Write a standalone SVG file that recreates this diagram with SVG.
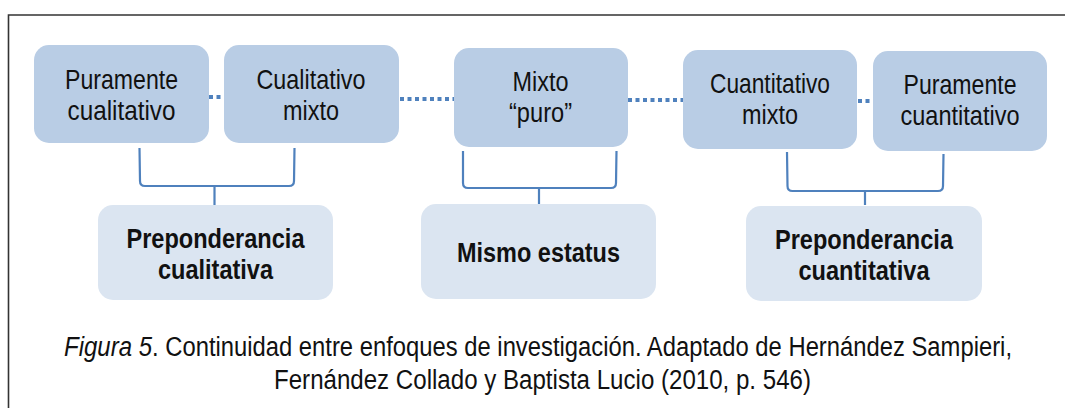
<svg xmlns="http://www.w3.org/2000/svg" width="1065" height="408" viewBox="0 0 1065 408">
<style>
.top{fill:#B9CDE5}
.bot{fill:#DBE5F1}
.t{font-family:"Liberation Sans",Arial,sans-serif;font-size:27.5px;fill:#111;text-anchor:middle}
.b{font-family:"Liberation Sans",Arial,sans-serif;font-size:28px;font-weight:bold;fill:#111;text-anchor:middle}
.cap{font-family:"Liberation Sans",Arial,sans-serif;font-size:28px;fill:#111}
.br{fill:none;stroke:#4F81BD;stroke-width:2.2}
.dot{fill:none;stroke:#4F81BD;stroke-width:4;stroke-dasharray:4 3.5}
</style>
<rect width="1065" height="408" fill="#fff"/>
<path d="M8.5,420 L8.5,15 L1070,15" fill="none" stroke="#333" stroke-width="1.6"/>
<g id="connectors">
<line class="dot" x1="209" y1="97" x2="224" y2="97"/>
<line class="dot" x1="400" y1="99" x2="454" y2="99"/>
<line class="dot" x1="628" y1="100" x2="683" y2="100"/>
<line class="dot" x1="858" y1="101" x2="873" y2="101"/>
<path class="br" d="M139.5,148 L140,181 Q140,186 145,186 L289,186 Q294,186 294,181 L294.5,148 M214.5,186 L214.5,205"/>
<path class="br" d="M463,151 L463,183 Q463,188 468,188 L611,188 Q616,188 616,183 L616.5,151 M539,188 L539,204"/>
<path class="br" d="M787,152 L787.5,186 Q787.5,191 792.5,191 L938,191 Q943,191 943,186 L943.5,154 M865,191 L865,205"/>
</g>
<g id="n1"><rect class="top" x="34" y="45" width="175" height="98" rx="15"/>
<text class="t" x="121.5" y="89" textLength="113" lengthAdjust="spacingAndGlyphs">Puramente</text>
<text class="t" x="121.5" y="120" textLength="108" lengthAdjust="spacingAndGlyphs">cualitativo</text></g>
<g id="n2"><rect class="top" x="224" y="45" width="175" height="98" rx="15"/>
<text class="t" x="311" y="89" textLength="109" lengthAdjust="spacingAndGlyphs">Cualitativo</text>
<text class="t" x="311" y="120" textLength="56" lengthAdjust="spacingAndGlyphs">mixto</text></g>
<g id="n3"><rect class="top" x="454" y="48" width="174" height="99" rx="15"/>
<text class="t" x="540.5" y="91" textLength="56" lengthAdjust="spacingAndGlyphs">Mixto</text>
<text class="t" x="540.5" y="122" textLength="63" lengthAdjust="spacingAndGlyphs">“puro”</text></g>
<g id="n4"><rect class="top" x="683" y="50" width="174" height="99" rx="15"/>
<text class="t" x="770" y="93" textLength="120" lengthAdjust="spacingAndGlyphs">Cuantitativo</text>
<text class="t" x="770" y="124" textLength="56" lengthAdjust="spacingAndGlyphs">mixto</text></g>
<g id="n5"><rect class="top" x="873" y="51" width="174" height="100" rx="15"/>
<text class="t" x="960" y="94" textLength="113" lengthAdjust="spacingAndGlyphs">Puramente</text>
<text class="t" x="960" y="125" textLength="119" lengthAdjust="spacingAndGlyphs">cuantitativo</text></g>
<g id="n6"><rect class="bot" x="98" y="205" width="235" height="95" rx="15"/>
<text class="b" x="215.5" y="248" textLength="178" lengthAdjust="spacingAndGlyphs">Preponderancia</text>
<text class="b" x="215.5" y="279" textLength="115" lengthAdjust="spacingAndGlyphs">cualitativa</text></g>
<g id="n7"><rect class="bot" x="421" y="204" width="235" height="95" rx="15"/>
<text class="b" x="538.5" y="262" textLength="163" lengthAdjust="spacingAndGlyphs">Mismo estatus</text></g>
<g id="n8"><rect class="bot" x="746" y="206" width="236" height="95" rx="15"/>
<text class="b" x="864" y="249" textLength="178" lengthAdjust="spacingAndGlyphs">Preponderancia</text>
<text class="b" x="864" y="280" textLength="131" lengthAdjust="spacingAndGlyphs">cuantitativa</text></g>
<g id="caption">
<text class="cap" transform="translate(64,356) scale(0.86,1)" x="0" y="0" font-style="italic" textLength="102.3" lengthAdjust="spacingAndGlyphs">Figura 5</text>
<text class="cap" transform="translate(152,356) scale(0.86,1)" x="0" y="0" textLength="1000" lengthAdjust="spacingAndGlyphs">. Continuidad entre enfoques de investigación. Adaptado de Hernández Sampieri,</text>
<text class="cap" transform="translate(274,389) scale(0.86,1)" x="0" y="0" textLength="624.4" lengthAdjust="spacingAndGlyphs">Fernández Collado y Baptista Lucio (2010, p. 546)</text>
</g>
</svg>
